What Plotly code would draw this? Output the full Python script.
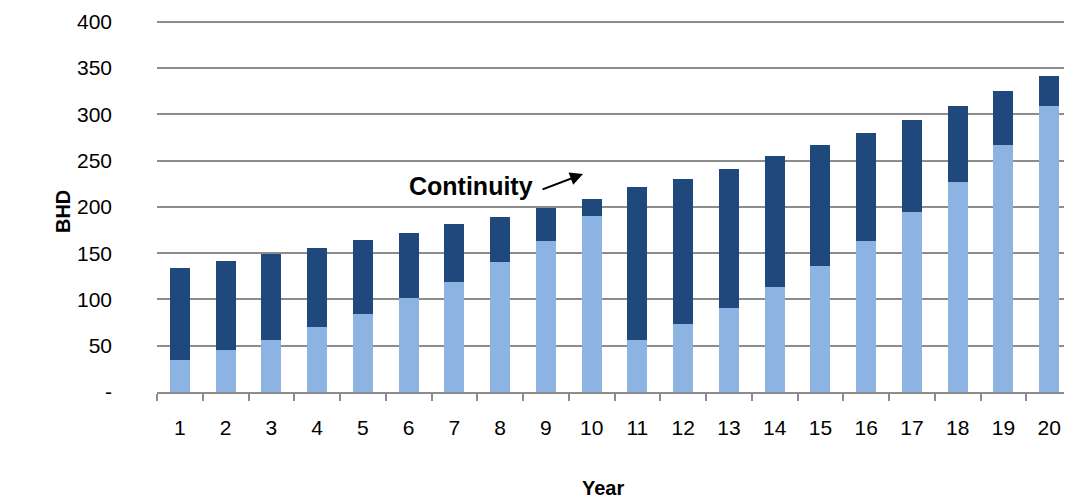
import plotly.graph_objects as go

years = [str(i) for i in range(1, 21)]
base_values = [35, 45, 56, 70, 84, 102, 119, 140, 163, 190,
               56, 73, 91, 113, 136, 163, 195, 227, 267, 309]
top_values = [99, 97, 93, 86, 80, 70, 63, 49, 36, 19,
              165, 157, 150, 142, 131, 117, 99, 82, 58, 32]
y_tick_vals = [0, 50, 100, 150, 200, 250, 300, 350, 400]
y_tick_text = ["-", "50", "100", "150", "200", "250", "300", "350", "400"]

font_family = "Liberation Sans, Arial, sans-serif"

fig = go.Figure()

fig.add_trace(
    go.Bar(
        x=years,
        y=base_values,
        marker=dict(color="#8DB3E2", line=dict(width=0)),
        showlegend=False
    )
)

fig.add_trace(
    go.Bar(
        x=years,
        y=top_values,
        marker=dict(color="#1F497D", line=dict(width=0)),
        showlegend=False
    )
)

fig.update_xaxes(
    type="category",
    automargin=False,
    showgrid=False,
    showline=True,
    linecolor="#8C8C8C",
    linewidth=2,
    ticks="outside",
    tickson="boundaries",
    ticklen=7,
    tickwidth=2,
    tickcolor="#8C8C8C",
    ticklabelstandoff=16,
    tickfont=dict(size=21, color="#000000")
)

fig.update_yaxes(
    automargin=False,
    range=[0, 402],
    tickvals=y_tick_vals,
    ticktext=y_tick_text,
    showgrid=True,
    gridcolor="#8C8C8C",
    gridwidth=1.5,
    zeroline=False,
    showline=False,
    ticks="",
    ticklabelstandoff=44,
    tickfont=dict(size=21, color="#000000")
)

# axis titles and the "Continuity" callout
fig.add_annotation(
    text="<b>Year</b>", xref="paper", yref="paper",
    x=0.4874, y=-0.2581, xanchor="center", yanchor="middle",
    showarrow=False, font=dict(size=20, color="#000000")
)
fig.add_annotation(
    text="<b>BHD</b>", xref="paper", yref="paper",
    x=-0.1027, y=0.4839, xanchor="center", yanchor="middle",
    showarrow=False, textangle=-90,
    font=dict(size=20, color="#000000")
)
fig.add_annotation(
    text="<b>Continuity</b>", xref="paper", yref="paper",
    x=0.3437, y=0.5538, xanchor="center", yanchor="middle",
    showarrow=False, font=dict(size=25, color="#000000")
)
fig.add_annotation(
    text="", xref="paper", yref="paper",
    x=0.4656, y=0.586, ax=-42, ay=16,
    showarrow=True, arrowhead=2, arrowsize=1.3, arrowwidth=2,
    arrowcolor="#000000"
)

# the page body keeps an 8px margin, so the figure is 8px smaller than the window
fig.update_layout(
    barmode="stack",
    bargap=0.56,
    width=1064,
    height=491,
    margin=dict(l=149, r=0, t=12, b=107),
    plot_bgcolor="#FFFFFF",
    paper_bgcolor="#FFFFFF",
    font=dict(family=font_family, color="#000000")
)

fig.write_html("out.html")
